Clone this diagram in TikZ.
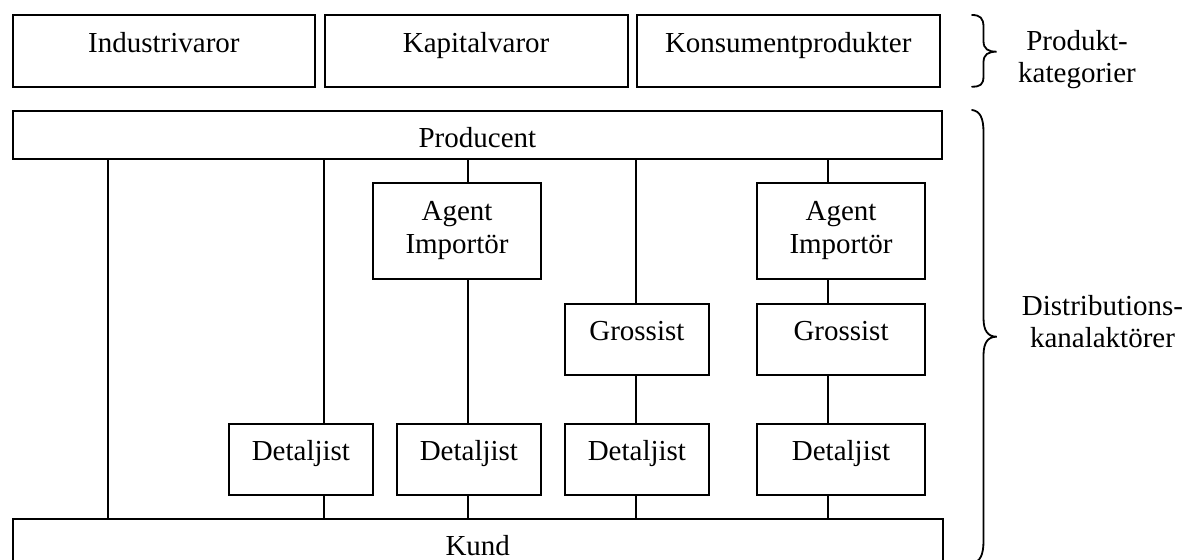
\documentclass[tikz,border=0pt]{standalone}
\usepackage{fontspec}
\setmainfont{Liberation Serif}
\begin{document}
\begin{tikzpicture}[x=1pt,y=-1pt,
  every node/.style={font=\fontsize{29}{33.5}\selectfont},
  box/.style={draw, line width=1.8pt, inner sep=0pt, anchor=north west},
  txt/.style={anchor=base, inner sep=0pt},
  link/.style={line width=1.8pt},
  brace/.style={line width=1.8pt, line cap=round}]
\clip (0,0) rectangle (1187,560);

% product categories
\node[box, minimum width=302.6pt, minimum height=72pt] (ind)  at (11.7,14.3) {};
\node[box, minimum width=303pt,   minimum height=72pt] (kap)  at (323.7,14.3) {};
\node[box, minimum width=303.3pt, minimum height=72pt] (kons) at (635.7,14.3) {};

% channel actors
\node[box, minimum width=929.6pt, minimum height=47.7pt] (prod) at (11.7,110) {};
\node[box, minimum width=168.3pt, minimum height=96pt]   (ag1)  at (372,182.3) {};
\node[box, minimum width=168.3pt, minimum height=96pt]   (ag2)  at (756,182.3) {};
\node[box, minimum width=144.6pt, minimum height=71.6pt] (gr1)  at (563.7,302.7) {};
\node[box, minimum width=168.3pt, minimum height=71.6pt] (gr2)  at (756,302.7) {};
\node[box, minimum width=144.6pt, minimum height=71.6pt] (det1) at (227.7,422.7) {};
\node[box, minimum width=144.6pt, minimum height=71.6pt] (det2) at (395.7,422.7) {};
\node[box, minimum width=144.6pt, minimum height=71.6pt] (det3) at (563.7,422.7) {};
\node[box, minimum width=168.3pt, minimum height=71.6pt] (det4) at (756,422.7) {};
\node[box, minimum width=930.3pt, minimum height=60pt]   (kund) at (11.7,517.7) {};

% box captions, set from the top edge
\foreach \b/\t in {ind/Industrivaror, kap/Kapitalvaror, kons/Konsumentprodukter,
                   gr1/Grossist, gr2/Grossist,
                   det1/Detaljist, det2/Detaljist, det3/Detaljist, det4/Detaljist, kund/Kund}
  \node[txt] at ([yshift=-38pt]\b.north) {\t};
\node[txt] at ([yshift=-37.7pt]prod.north) {Producent};
\foreach \b in {ag1, ag2} {
  \node[txt] at ([yshift=-38pt]\b.north) {Agent};
  \node[txt] at ([yshift=-71.5pt]\b.north) {Importör};
}

% channel columns
\coordinate (c1) at (108,0);
\coordinate (c2) at (323.7,0);
\coordinate (c3) at (468,0);
\coordinate (c4) at (636,0);
\coordinate (c5) at (828,0);

\foreach \a/\b/\c in {prod/kund/c1,
                      prod/det1/c2, det1/kund/c2,
                      prod/ag1/c3, ag1/det2/c3, det2/kund/c3,
                      prod/gr1/c4, gr1/det3/c4, det3/kund/c4,
                      prod/ag2/c5, ag2/gr2/c5, gr2/det4/c5, det4/kund/c5}
  \draw[link] (\a.south -| \c) -- (\b.north -| \c);

% braces
\draw[brace] (972,15) .. controls (980,15) and (983.5,18) .. (983.5,27)
  -- (983.5,41) .. controls (983.5,49) and (988,51.7) .. (996.7,51.7)
  .. controls (988,51.7) and (983.5,54.4) .. (983.5,62.4)
  -- (983.5,76) .. controls (983.5,85) and (980,86.7) .. (972,86.7);
\draw[brace] (972,110) .. controls (980,111) and (983.5,118) .. (983.5,132)
  -- (983.5,318) .. controls (983.5,331) and (988,336.7) .. (996.7,336.7)
  .. controls (988,336.7) and (983.5,342.4) .. (983.5,355.4)
  -- (983.5,541) .. controls (983.5,555) and (980,562) .. (972,563.4);

% group labels
\node[txt] (pk1) at (1077,50) {Produkt-};
\node[txt] (pk2) at (1077,82) {kategorier};
\node[txt] (dk1) at (1102.5,315) {Distributions-};
\node[txt] (dk2) at (1102.5,347) {kanalaktörer};
\end{tikzpicture}
\end{document}
